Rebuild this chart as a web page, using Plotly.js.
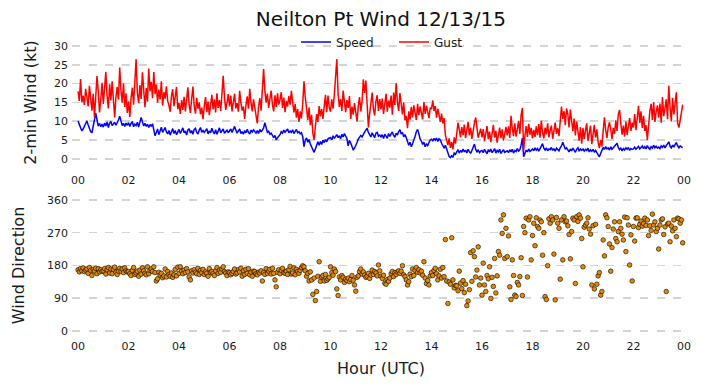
<!DOCTYPE html>
<html>
<head>
<meta charset="utf-8">
<script src="https://cdn.plot.ly/plotly-3.0.1.min.js"></script>
<style>html,body{margin:0;padding:0;background:#fff;}#chart{width:702px;height:388px;}</style>
</head>
<body>
<div id="chart"></div>
<script>
// 3-minute samples, one row per hour (20 values each), hour 00 .. 23 UTC
const speedKt = [
10.0,9.1,8.0,7.4,7.9,8.6,9.5,10.1,9.0,7.8,7.2,6.9,8.3,10.4,12.1,10.6,8.7,9.4,8.5,9.2,
8.4,9.5,8.7,9.8,8.3,9.4,9.9,8.8,9.3,9.7,8.9,9.5,10.3,11.3,10.0,8.8,9.4,8.6,9.5,8.9,
9.6,8.6,9.4,9.9,8.5,9.2,8.8,9.7,8.4,10.1,11.0,9.8,8.7,9.4,8.6,9.2,8.3,9.1,8.6,9.3,
7.4,6.1,7.0,7.9,6.4,7.3,8.4,7.0,7.7,8.3,7.1,6.6,7.5,6.3,7.2,8.0,6.7,7.5,6.4,7.3,
7.8,6.7,7.5,8.2,6.9,7.4,6.3,7.6,8.0,6.8,7.5,6.5,7.8,8.1,7.0,6.6,7.6,8.3,7.0,7.5,
7.0,7.5,8.0,6.6,7.4,6.9,8.1,7.2,6.6,7.7,6.5,7.4,8.2,6.9,7.5,7.9,6.8,7.4,7.6,6.9,
7.3,7.9,7.0,8.1,8.6,7.6,6.8,7.4,7.9,6.7,7.2,6.5,7.5,6.9,7.8,7.0,6.6,7.6,7.1,7.7,
7.2,6.8,7.5,6.7,7.8,7.1,7.6,8.2,9.6,8.1,7.0,7.3,6.5,6.8,6.1,5.6,6.2,5.0,5.6,6.0,
6.4,7.2,6.8,7.6,7.0,7.5,7.9,6.9,7.4,7.0,7.7,6.7,7.3,7.8,6.9,7.2,6.6,6.9,5.9,3.2,
5.0,5.5,4.4,5.1,3.9,3.0,2.1,1.7,2.6,3.7,4.5,3.6,4.6,3.8,4.9,4.3,5.1,4.5,5.3,5.5,
5.6,5.0,6.1,5.4,5.9,6.4,5.6,6.1,5.3,6.5,5.8,6.7,6.0,5.4,3.4,4.9,4.2,3.1,2.4,2.8,
3.4,4.3,5.2,5.6,6.2,5.8,6.6,7.1,7.6,8.1,7.0,6.5,5.8,6.9,6.2,5.6,6.8,7.0,6.0,6.3,
5.8,6.4,5.4,6.5,6.0,5.4,6.7,5.9,6.6,7.1,6.2,5.7,6.8,6.3,7.2,7.7,6.6,7.0,5.8,6.4,
5.6,4.2,3.6,4.4,3.2,4.0,4.8,5.9,7.2,7.8,6.6,5.2,4.7,3.8,4.4,3.2,3.9,3.5,4.3,5.0,
5.2,4.7,5.4,4.9,5.5,4.6,5.3,5.0,4.1,3.5,2.8,3.6,2.6,1.4,0.6,0.3,0.8,0.4,1.5,1.2,
1.9,2.4,1.5,2.2,1.7,2.6,1.8,2.3,1.5,2.5,1.9,1.4,2.2,3.1,3.9,2.5,1.7,2.4,1.6,2.0,
2.2,1.6,2.5,1.9,1.3,2.4,1.8,2.6,1.6,2.1,2.7,1.5,2.2,1.8,2.5,1.4,2.1,2.4,1.7,2.0,
2.1,1.6,2.4,1.8,2.5,1.5,2.2,1.9,2.7,2.0,2.4,3.6,5.5,0.5,1.6,2.3,1.8,2.6,1.9,2.4,
2.6,2.1,2.9,2.3,2.7,2.0,2.8,3.3,4.0,2.8,2.3,2.9,2.1,2.6,2.4,3.0,2.2,2.7,2.0,2.8,
2.5,2.1,2.9,3.4,4.4,3.3,2.5,2.9,2.2,1.8,2.6,2.1,2.8,2.3,1.7,2.5,2.9,2.0,2.6,2.2,
2.6,2.0,2.5,2.2,2.8,1.8,2.4,2.0,2.5,1.7,2.2,1.6,1.2,0.5,1.4,2.4,3.0,2.5,3.2,2.6,
2.9,2.3,3.2,2.5,2.9,3.4,3.8,4.1,3.0,2.4,2.8,2.1,2.7,2.3,2.9,2.5,3.0,2.2,2.7,2.5,
2.6,3.1,2.5,2.9,3.3,2.6,3.0,3.4,2.7,3.2,2.6,3.5,2.9,2.5,3.2,2.8,3.6,2.9,3.3,2.8,
3.1,2.7,3.4,3.0,3.6,2.9,3.5,3.9,4.5,3.3,2.9,3.6,3.1,3.8,4.3,3.4,2.9,3.4,3.1,2.9
];

const gustKt = [
17.9,15.4,21.2,15.0,16.8,14.3,18.6,16.2,13.9,19.4,15.1,12.8,17.3,11.1,16.5,22.0,18.1,12.3,15.7,20.2,
14.6,18.9,23.1,16.7,13.4,19.8,15.5,20.6,14.2,11.0,16.3,19.1,15.8,24.3,18.2,14.9,20.1,13.8,17.4,12.2,
15.3,11.1,16.2,18.9,14.4,22.1,26.5,17.5,14.8,19.6,15.9,23.0,16.4,13.7,18.8,15.2,24.0,17.9,20.5,16.1,
23.1,17.2,19.8,14.9,18.4,15.8,20.6,14.1,17.7,16.0,19.3,15.4,14.2,12.5,16.7,18.5,14.0,17.6,19.1,13.2,
14.8,11.9,15.6,13.0,16.5,12.6,15.2,19.0,14.3,12.2,15.9,19.2,14.1,12.0,16.2,13.3,15.0,11.8,13.6,10.5,
14.0,16.4,12.4,15.3,11.6,14.9,17.0,13.1,15.8,12.3,17.4,13.5,15.6,12.7,18.6,22.1,16.3,13.0,14.9,17.2,
13.9,16.8,12.6,15.1,17.3,13.4,14.8,12.5,18.1,15.0,12.8,13.9,10.6,14.2,16.6,13.3,18.6,14.9,12.6,15.8,
13.2,11.8,9.4,13.9,16.1,12.8,17.6,23.9,18.0,14.9,17.3,13.5,16.0,18.1,14.3,12.6,16.9,13.8,17.4,14.4,
15.7,17.7,13.5,16.3,12.4,15.4,13.9,16.7,14.4,18.1,15.2,12.3,14.6,10.9,13.2,9.8,12.6,10.7,14.8,20.6,
16.4,12.8,10.3,13.6,8.9,11.7,6.8,5.0,8.1,11.9,9.8,14.0,11.3,13.2,10.6,15.1,17.0,12.4,16.8,13.7,
12.5,15.8,13.3,16.9,21.2,26.5,17.4,13.8,15.9,12.7,18.1,14.6,12.4,15.6,13.5,16.7,10.6,13.9,11.7,14.8,
12.2,9.9,14.1,16.4,12.6,15.3,21.1,17.5,20.8,13.4,8.3,12.0,15.1,17.6,13.2,11.5,15.3,16.9,12.7,15.9,
13.1,16.0,11.9,14.8,17.3,12.5,15.5,13.6,16.8,11.7,17.6,14.3,20.1,15.1,12.7,17.5,14.2,11.8,15.0,10.2,
11.4,8.1,12.6,10.4,13.8,11.0,14.2,12.1,10.3,14.6,11.6,13.9,12.4,10.5,15.1,11.9,14.1,12.3,10.8,13.6,
13.2,15.5,12.7,14.0,10.9,13.3,11.4,9.8,12.0,9.4,10.8,6.3,4.9,3.6,5.4,2.9,4.4,2.5,5.7,4.0,
6.6,9.6,7.8,5.7,8.4,6.3,9.1,5.5,7.6,9.8,6.2,8.3,5.3,7.9,9.5,11.0,7.2,5.6,6.8,8.0,
5.7,7.9,4.7,6.5,8.7,5.2,7.2,4.4,6.9,9.0,5.6,7.4,4.3,6.2,8.3,5.5,7.8,4.8,6.6,8.5,
6.2,8.6,5.5,11.4,8.1,6.0,9.4,5.9,7.8,10.1,6.6,11.6,13.5,2.1,6.0,8.7,5.8,9.3,6.4,8.2,
5.4,7.7,5.8,8.6,6.3,9.2,5.6,10.1,7.0,5.4,8.3,6.5,9.4,5.7,7.5,8.8,5.3,7.0,9.6,6.6,
8.1,6.0,9.5,13.9,10.6,12.7,8.9,13.4,11.9,8.3,13.1,9.6,7.3,10.7,6.2,9.9,7.0,4.8,8.4,4.0,
8.2,5.2,7.5,9.4,4.7,6.9,8.8,3.9,6.3,9.0,5.6,7.8,4.4,2.8,5.0,3.2,7.4,11.0,7.7,5.5,
8.4,9.7,7.9,5.3,8.2,6.6,10.2,7.4,11.8,13.0,9.3,6.4,8.8,5.9,9.9,6.3,8.6,10.8,7.4,9.6,
8.3,11.9,7.6,10.8,14.1,9.5,12.6,8.2,11.4,7.4,8.9,5.0,9.0,12.7,14.6,10.3,15.1,9.8,12.5,14.2,
10.9,14.7,9.6,16.4,11.3,13.9,15.8,10.5,19.4,13.6,9.9,16.2,11.8,14.8,17.7,9.5,8.3,10.2,12.5,14.4
];

const directionDeg = [
168,162,171,165,173,163,167,170,158,174,166,152,169,164,172,157,171,162,168,163,
165,171,156,168,174,159,170,157,169,175,161,155,164,172,163,170,160,173,165,162,
163,157,152,166,174,155,159,164,150,167,156,173,165,158,154,176,157,166,170,163,
176,160,137,143,161,153,158,146,151,170,148,163,155,150,159,147,154,169,151,175,
158,176,164,157,167,160,171,162,148,140,165,159,168,161,157,172,155,166,160,169,
155,162,158,150,171,160,163,157,152,165,174,158,167,161,170,176,163,159,152,162,
160,154,158,163,170,156,159,168,162,172,150,165,155,169,158,171,154,161,150,164,
163,157,154,161,159,165,137,160,155,171,158,164,169,156,172,158,140,121,161,168,
157,166,172,160,158,164,155,168,177,156,159,173,154,169,163,158,166,174,179,176,
165,150,158,137,162,140,100,145,83,108,150,190,136,148,152,137,155,139,143,147,
176,160,153,170,163,115,97,148,140,152,147,133,142,138,145,135,141,152,139,126,
109,147,151,163,170,156,162,153,147,150,158,144,153,167,155,163,159,151,181,165,
150,144,153,131,128,141,136,145,157,163,149,160,155,162,165,158,164,179,154,149,
140,126,135,156,149,170,152,166,174,161,168,159,164,153,190,145,130,138,126,151,
160,152,166,172,157,140,151,169,145,174,149,251,137,75,134,128,256,140,118,125,
124,110,164,131,116,138,105,128,69,82,113,215,136,220,204,148,167,231,126,145,
98,186,126,108,152,143,176,89,147,122,199,104,151,218,208,305,268,319,199,282,
204,261,121,86,195,152,98,94,133,126,149,201,97,287,270,310,148,305,314,195,
262,296,234,311,287,282,305,300,208,270,94,86,179,308,296,314,305,211,85,312,
296,282,142,305,195,314,300,302,289,265,198,273,310,305,130,314,301,319,310,254,
176,285,291,296,311,280,266,126,289,115,293,128,151,160,98,108,250,206,319,311,
287,239,164,229,280,300,254,245,273,300,282,266,250,313,218,311,291,181,264,137,
287,247,310,311,284,293,302,288,295,310,290,305,262,289,276,321,291,300,273,282,
225,291,305,308,265,286,108,294,296,245,288,275,305,282,259,310,308,296,305,242
];

const hourTickVals = [0,2,4,6,8,10,12,14,16,18,20,22,24];
const hourTickText = ['00','02','04','06','08','10','12','14','16','18','20','22','00'];
const windTickVals = [0,5,10,15,20,25,30];
const dirTickVals = [0,90,180,270,360];

// sample time axis: one sample every 3 minutes from 00:00 UTC
const hours = speedKt.map((_, i) => i / 20);

const gridStyle = {
  showgrid: true, gridcolor: '#d4d4d4', gridwidth: 1.6, griddash: '8px,8.7px',
  zeroline: false, showline: false, ticks: '', ticklabelstandoff: 3
};
const xStyle = {
  range: [-0.24, 24.24], tickmode: 'array', tickvals: hourTickVals, ticktext: hourTickText,
  showgrid: false, zeroline: false, showline: false, ticks: ''
};

const traces = [
  { x: hours, y: speedKt, name: 'Speed', type: 'scatter', mode: 'lines',
    line: { color: '#0000ff', width: 1.5 }, xaxis: 'x', yaxis: 'y' },
  { x: hours, y: gustKt, name: 'Gust', type: 'scatter', mode: 'lines',
    line: { color: '#ff0000', width: 1.5 }, xaxis: 'x', yaxis: 'y' },
  { x: hours, y: directionDeg, name: 'Direction', type: 'scatter', mode: 'markers',
    marker: { color: '#e88a00', size: 4.6, line: { color: '#000000', width: 0.6 } },
    showlegend: false, xaxis: 'x2', yaxis: 'y2' }
];

const layout = {
  width: 702, height: 388,
  margin: { l: 72, r: 12, t: 0, b: 0 },
  paper_bgcolor: '#ffffff', plot_bgcolor: '#ffffff',
  font: { family: 'DejaVu Sans, sans-serif', size: 11, color: '#1a1a1a' },
  title: { text: 'Neilton Pt Wind 12/13/15', x: 0.5427, xref: 'container', xanchor: 'center',
           y: 0.951, yref: 'container', yanchor: 'middle', font: { size: 20, color: '#111' } },
  showlegend: true,
  legend: { orientation: 'h', x: 0.3625, xanchor: 'left', y: 0.8918, yanchor: 'middle',
            font: { size: 12 }, bgcolor: 'rgba(0,0,0,0)', entrywidth: 53, entrywidthmode: 'pixels' },
  xaxis: Object.assign({}, xStyle, { anchor: 'y', domain: [0, 1], ticklabelstandoff: 7 }),
  yaxis: Object.assign({}, gridStyle, { anchor: 'x', domain: [0.5747, 0.8969], range: [-1.68, 31.6],
           tickmode: 'array', tickvals: windTickVals,
           title: { text: '2-min Wind (kt)', font: { size: 16 }, standoff: 13 } }),
  xaxis2: Object.assign({}, xStyle, { anchor: 'y2', domain: [0, 1], ticklabelstandoff: 1,
           title: { text: 'Hour (UTC)', font: { size: 16 }, standoff: 10 } }),
  yaxis2: Object.assign({}, gridStyle, { anchor: 'x2', domain: [0.1314, 0.5], range: [-17.35, 376.5],
           tickmode: 'array', tickvals: dirTickVals,
           title: { text: 'Wind Direction', font: { size: 16 }, standoff: 17.8 } })
};

Plotly.newPlot('chart', traces, layout, { displayModeBar: false, staticPlot: true });
</script>
</body>
</html>
